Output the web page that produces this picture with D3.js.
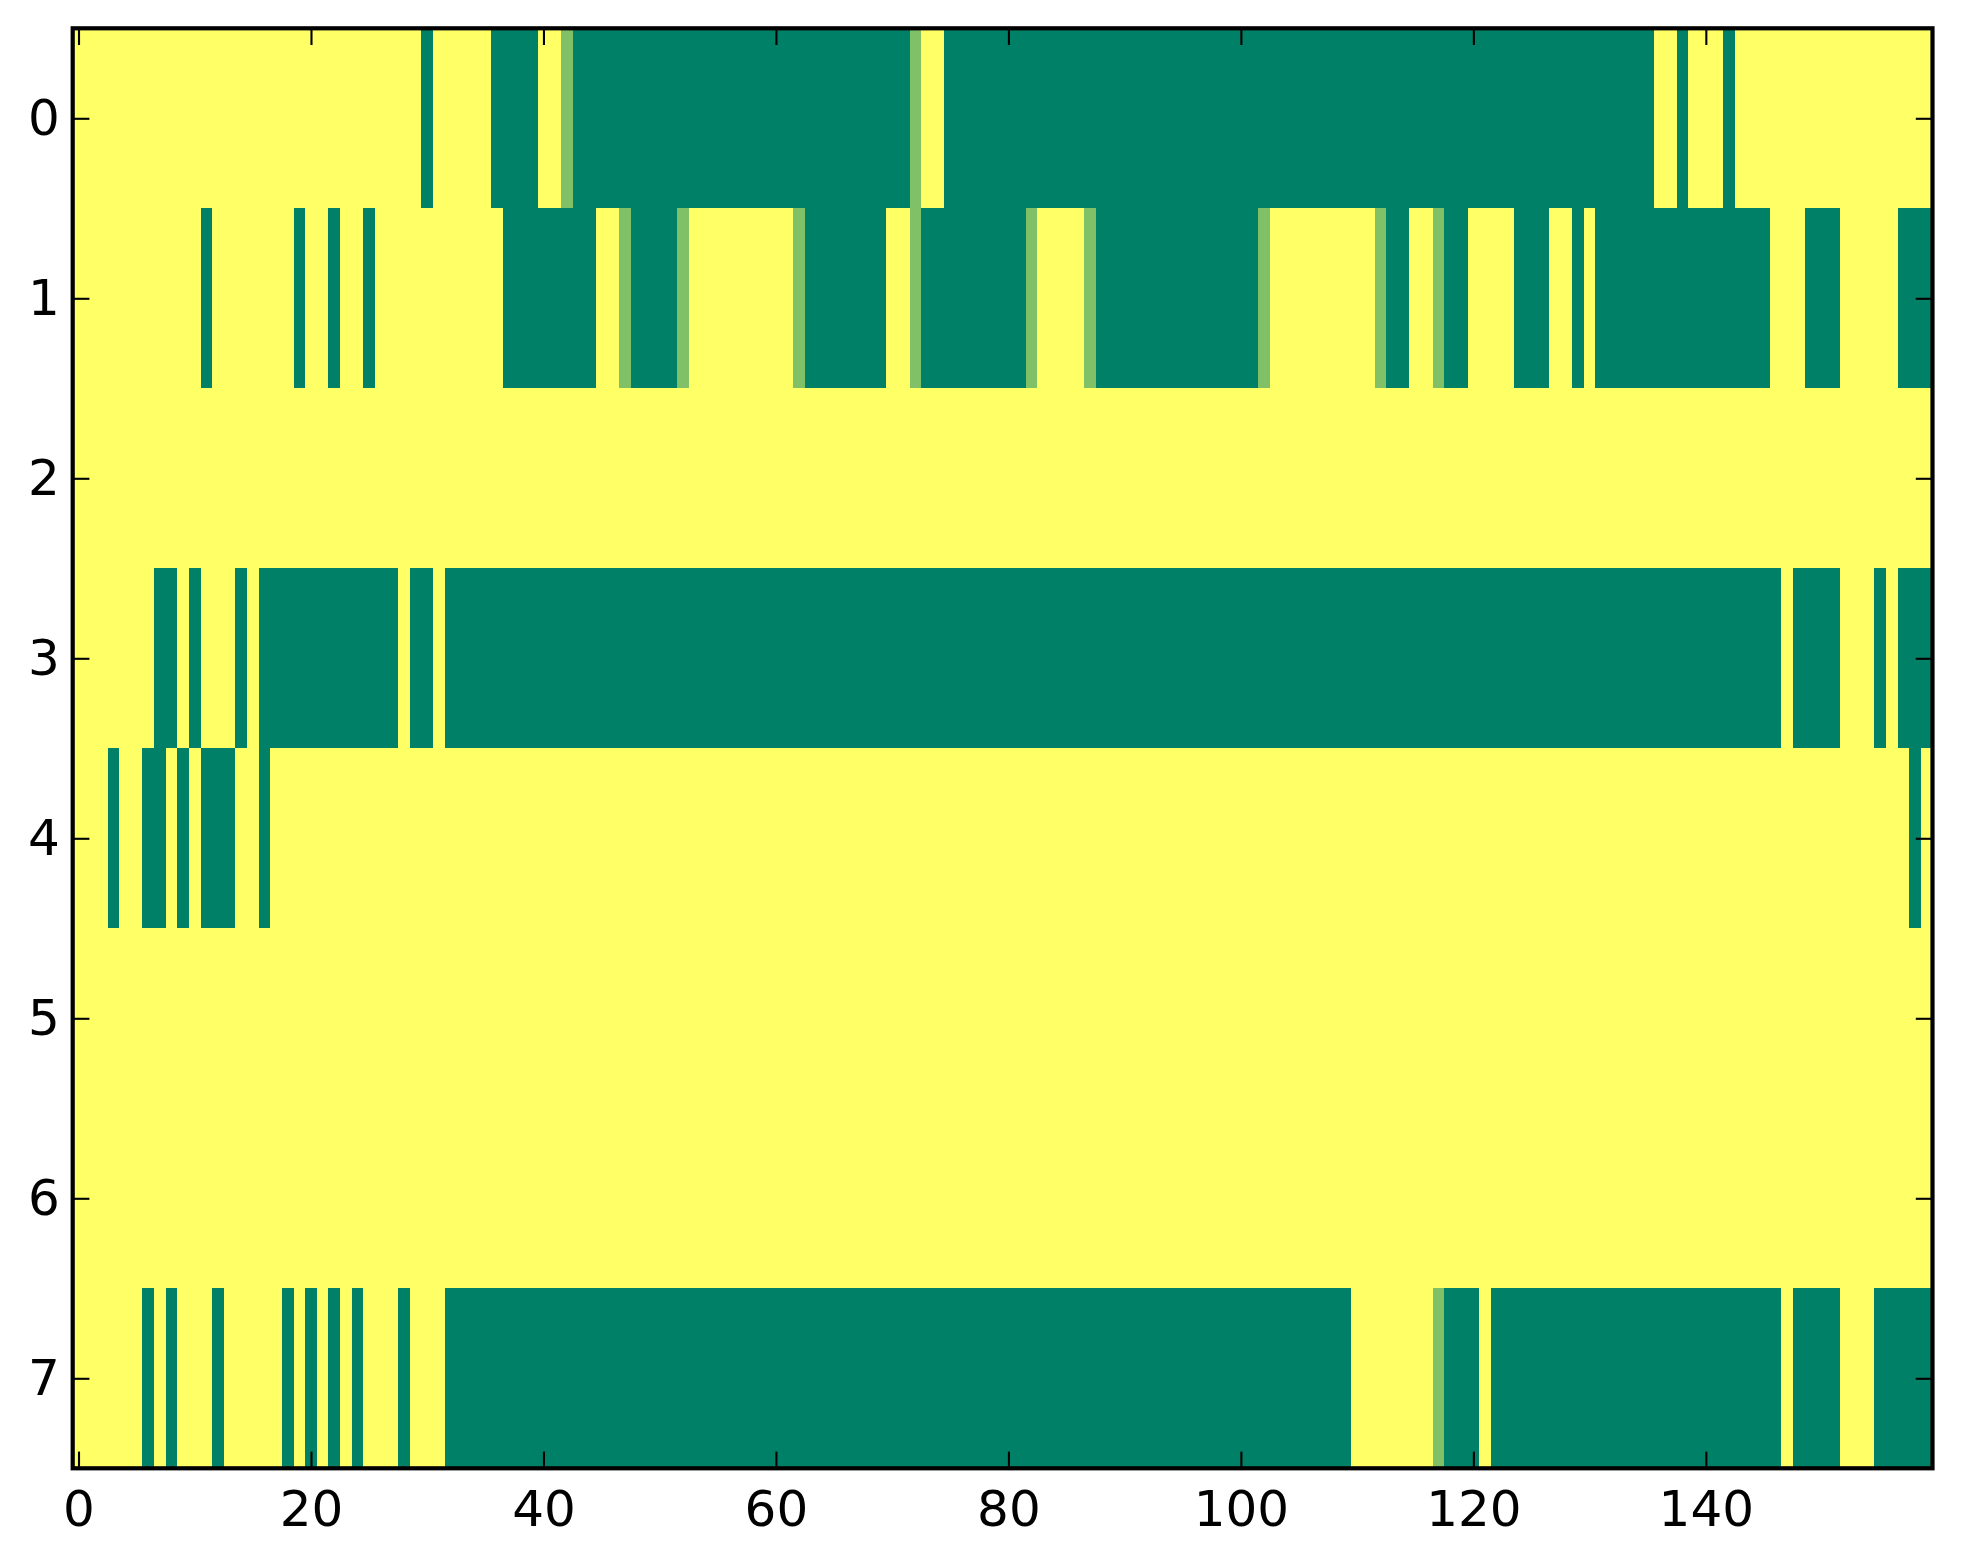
<!DOCTYPE html>
<html>
<head>
<meta charset="utf-8">
<script src="https://cdn.jsdelivr.net/npm/d3@7/dist/d3.min.js"></script>
<style>
  html, body { margin: 0; padding: 0; background: #ffffff; }
  svg { display: block; }
</style>
</head>
<body>
<svg id="chart" width="1963" height="1564"></svg>
<script>
// ---- data (value per cell: 1 = high, 0 = low, 0.5 = middle), stored as [value, runLength] ----
const nCols = 160;
const rowLabels = [0, 1, 2, 3, 4, 5, 6, 7];
const xTickValues = [0, 20, 40, 60, 80, 100, 120, 140];

const row0 = [[1,30],[0,1],[1,5],[0,4],[1,2],[0.5,1],[0,29],[0.5,1],[1,2],[0,61],[1,2],[0,1],[1,3],[0,1],[1,17]];
const row1 = [[1,11],[0,1],[1,7],[0,1],[1,2],[0,1],[1,2],[0,1],[1,11],[0,8],[1,2],[0.5,1],[0,4],[0.5,1],[1,9],[0.5,1],[0,7],[1,2],[0.5,1],[0,9],[0.5,1],[1,4],[0.5,1],[0,14],[0.5,1],[1,9],[0.5,1],[0,2],[1,2],[0.5,1],[0,2],[1,4],[0,3],[1,2],[0,1],[1,1],[0,15],[1,3],[0,3],[1,5],[0,3]];
const row2 = [[1,160]];
const row3 = [[1,7],[0,2],[1,1],[0,1],[1,3],[0,1],[1,1],[0,12],[1,1],[0,2],[1,1],[0,115],[1,1],[0,4],[1,3],[0,1],[1,1],[0,3]];
const row4 = [[1,3],[0,1],[1,2],[0,2],[1,1],[0,1],[1,1],[0,3],[1,2],[0,1],[1,141],[0,1],[1,1]];
const row5 = [[1,160]];
const row6 = [[1,160]];
const row7 = [[1,6],[0,1],[1,1],[0,1],[1,3],[0,1],[1,5],[0,1],[1,1],[0,1],[1,1],[0,1],[1,1],[0,1],[1,3],[0,1],[1,3],[0,78],[1,7],[0.5,1],[0,3],[1,1],[0,25],[1,1],[0,4],[1,3],[0,5]];

const rows = [row0, row1, row2, row3, row4, row5, row6, row7];

// expand runs into cells
const cells = [];
rows.forEach((runs, r) => {
  let c = 0;
  runs.forEach(([v, n]) => {
    for (let k = 0; k < n; k++) { cells.push({ row: r, col: c, value: v }); c++; }
  });
});

// ---- layout ----
const L = 72.7, R = 1932.5, T = 28.3, B = 1468.3;
const x = d3.scaleLinear().domain([-0.5, nCols - 0.5]).range([L, R]);
const y = d3.scaleLinear().domain([-0.5, rowLabels.length - 0.5]).range([T, B]);
// "summer" colormap
const color = d3.scaleLinear().domain([0, 1]).range(["#008066", "#ffff66"]).interpolate(d3.interpolateRgb);

const svg = d3.select("#chart");
svg.append("rect").attr("width", 1963).attr("height", 1564).attr("fill", "#ffffff");

svg.append("g")
  .attr("shape-rendering", "crispEdges")
  .selectAll("rect")
  .data(cells)
  .join("rect")
  .attr("x", d => x(d.col - 0.5))
  .attr("y", d => y(d.row - 0.5))
  .attr("width", d => x(d.col + 0.5) - x(d.col - 0.5) + 0.3)
  .attr("height", d => y(d.row + 0.5) - y(d.row - 0.5) + 0.3)
  .attr("fill", d => color(d.value));

const tickLen = 16.7;
const font = "'DejaVu Sans', sans-serif";

function styleAxis(g) {
  g.select(".domain").remove();
  g.selectAll(".tick line").attr("stroke", "#000").attr("stroke-width", 2.1);
  g.selectAll(".tick text").attr("fill", "#000").attr("font-size", 50).attr("font-family", font);
}

svg.append("g").attr("transform", `translate(0,${B})`)
  .call(d3.axisBottom(x).tickValues(xTickValues).tickSize(-tickLen).tickPadding(22).tickFormat(d3.format("d")))
  .call(styleAxis);
svg.append("g").attr("transform", `translate(0,${T})`)
  .call(d3.axisTop(x).tickValues(xTickValues).tickSize(-tickLen).tickFormat(""))
  .call(styleAxis);
svg.append("g").attr("transform", `translate(${L},0)`)
  .call(d3.axisLeft(y).tickValues(rowLabels).tickSize(-tickLen).tickPadding(13).tickFormat(d3.format("d")))
  .call(styleAxis);
svg.append("g").attr("transform", `translate(${R},0)`)
  .call(d3.axisRight(y).tickValues(rowLabels).tickSize(-tickLen).tickFormat(""))
  .call(styleAxis);

// spines
svg.append("rect")
  .attr("x", L).attr("y", T).attr("width", R - L).attr("height", B - T)
  .attr("fill", "none").attr("stroke", "#000").attr("stroke-width", 4.2);
</script>
</body>
</html>
